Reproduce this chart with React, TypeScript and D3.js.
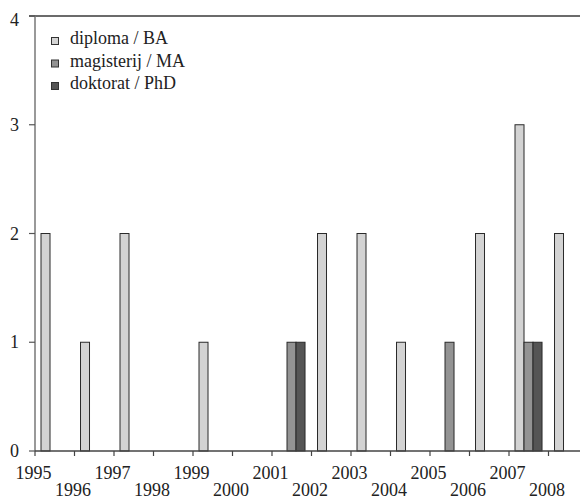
import React from "react";
import * as d3 from "d3";

const years = ["1995","1996","1997","1998","1999","2000","2001","2002","2003","2004","2005","2006","2007","2008"];
const seriesNames = ["diploma / BA", "magisterij / MA", "doktorat / PhD"];
const diploma = [2, 1, 2, 0, 1, 0, 0, 2, 2, 1, 0, 2, 3, 2];
const magisterij = [0, 0, 0, 0, 0, 0, 1, 0, 0, 0, 1, 0, 1, 0];
const doktorat = [0, 0, 0, 0, 0, 0, 1, 0, 0, 0, 0, 0, 1, 0];
const yTicks = [0, 1, 2, 3, 4];
const colors = ["#d3d3d3", "#939393", "#555555"];

const W = 580, H = 499;
const left = 35, right = 588, top = 16, bottom = 451;
const textStyle = { fontFamily: "Liberation Serif", fontSize: "18px" };

export default function App() {
  const x = d3.scaleBand<string>().domain(years).range([left, right]).padding(0);
  const bw = x.bandwidth();
  const xs = d3.scaleBand<string>().domain(seriesNames).range([bw * 0.152, bw * 0.836]).padding(0);
  const y = d3.scaleLinear().domain([0, 4]).range([bottom, top]);
  const allSeries = [diploma, magisterij, doktorat];

  return (
    <svg width={W} height={H} style={{ position: "absolute", left: 0, top: 0, background: "#fff" }}>
      {allSeries.map((vals, si) =>
        vals.map((v, i) =>
          v > 0 ? (
            <rect
              key={`${si}-${i}`}
              x={(x(years[i]) as number) + (xs(seriesNames[si]) as number)}
              y={y(v)}
              width={xs.bandwidth()}
              height={y(0) - y(v)}
              fill={colors[si]}
              stroke="#2a2a2a"
              strokeWidth={1}
            />
          ) : null
        )
      )}
      <line x1={29} x2={W} y1={top} y2={top} stroke="#3a3a3a" strokeWidth={1.5} />
      <line x1={left} x2={left} y1={top} y2={bottom} stroke="#777" strokeWidth={1.5} />
      {yTicks.map((t) => (
        <g key={t}>
          <line x1={29} x2={left} y1={y(t)} y2={y(t)} stroke="#555" strokeWidth={1.2} />
          <text
            x={19}
            y={(t === 4 ? y(t) + 4 : y(t)) + 6}
            textAnchor="end"
            style={textStyle}
            fill="#222"
          >
            {t}
          </text>
        </g>
      ))}
      <line x1={left} x2={W} y1={bottom} y2={bottom} stroke="#444" strokeWidth={1.5} />
      {years.map((yr, i) => (
        <g key={yr}>
          <line x1={x(yr) as number} x2={x(yr) as number} y1={bottom} y2={bottom + 5} stroke="#444" strokeWidth={1.2} />
          <text
            x={(x(yr) as number) - 1.5}
            y={i % 2 === 0 ? 479 : 496}
            textAnchor="middle"
            style={textStyle}
            fill="#222"
          >
            {yr}
          </text>
        </g>
      ))}
      {seriesNames.map((s, i) => (
        <g key={s}>
          <rect x={51.5} y={37.5 + i * 22.5} width={7} height={7} fill={colors[i]} stroke="#333" strokeWidth={1} />
          <text x={70} y={44 + i * 22.5} style={textStyle} fill="#222">
            {s}
          </text>
        </g>
      ))}
    </svg>
  );
}
